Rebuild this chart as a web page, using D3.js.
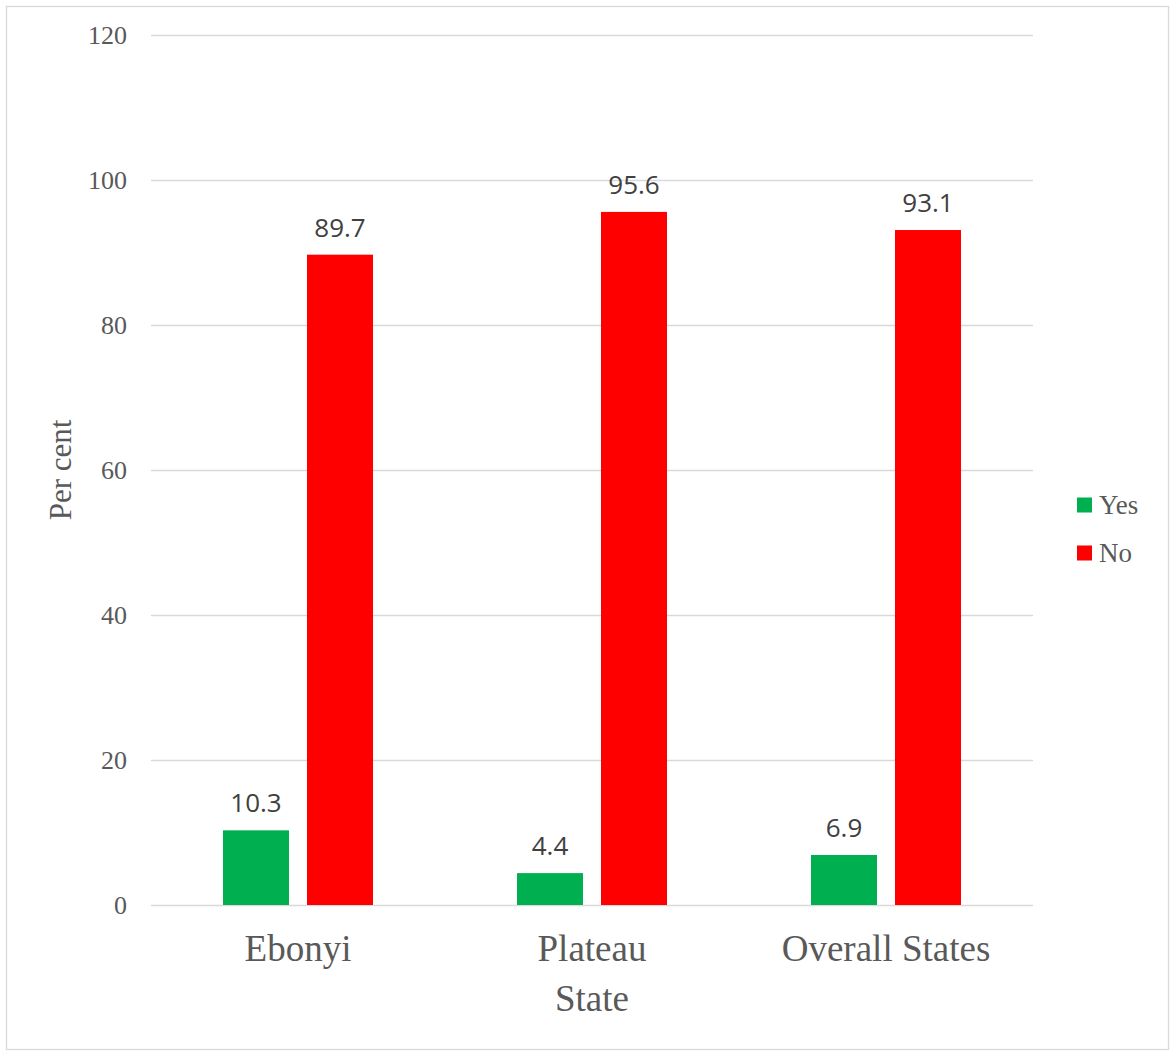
<!DOCTYPE html>
<html>
<head>
<meta charset="utf-8">
<script src="https://cdn.jsdelivr.net/npm/d3@7"></script>
<style>
	body { margin: 0; background: #fff; }
	svg { display: block; }
</style>
</head>
<body>
<svg id="chart" width="1170" height="1051"></svg>
<script>
// Chart values
const categories = ['Ebonyi', 'Plateau', 'Overall States']
const seriesNames = ['Yes', 'No']
const yesValues = [10.3, 4.4, 6.9]
const noValues = [89.7, 95.6, 93.1]
const yTicks = [0, 20, 40, 60, 80, 100, 120]

const colors = { Yes: '#00B050', No: '#FF0000' }

let svg = d3.select('#chart')
let margin = { top: 35, right: 137, bottom: 146, left: 151 }
let width = 1170, height = 1051

// Outer frame
svg.append('rect')
	.attr('x', 6.5).attr('y', 6.5)
	.attr('width', 1162).attr('height', 1043)
	.attr('fill', '#fff')
	.attr('stroke', '#D9D9D9')
	.attr('stroke-width', 1.3)

let y = d3.scaleLinear()
	.domain([0, 120])
	.range([height - margin.bottom, margin.top])

let x0 = d3.scaleBand()
	.domain(categories)
	.range([margin.left, width - margin.right])

// Two bars of 66px with an 18px gap, centred in each category
let groupWidth = 150
let x1 = d3.scaleBand()
	.domain(seriesNames)
	.range([(x0.bandwidth() - groupWidth) / 2, (x0.bandwidth() + groupWidth) / 2])
	.paddingInner(18 / 84)

// Gridlines + y tick labels
let yAxis = svg.append('g')
	.attr('transform', `translate(${margin.left}, 0)`)
	.call(d3.axisLeft(y).tickValues(yTicks).tickSize(-(width - margin.left - margin.right)).tickPadding(24))
yAxis.select('.domain').remove()
yAxis.selectAll('.tick line')
	.attr('stroke', '#D9D9D9')
	.attr('stroke-width', 1.5)
yAxis.selectAll('.tick text')
	.attr('fill', '#595959')
	.attr('font-family', '"Liberation Serif", "Times New Roman", serif')
	.attr('font-size', 26)

// Bars
let rows = categories.map((c, i) => ({ category: c, Yes: yesValues[i], No: noValues[i] }))

let groups = svg.append('g').selectAll('g')
	.data(rows)
	.join('g')
	.attr('transform', d => `translate(${x0(d.category)}, 0)`)

groups.selectAll('rect')
	.data(d => seriesNames.map(s => ({ key: s, value: d[s] })))
	.join('rect')
	.attr('x', d => x1(d.key))
	.attr('y', d => y(d.value))
	.attr('width', x1.bandwidth())
	.attr('height', d => y(0) - y(d.value))
	.attr('fill', d => colors[d.key])

groups.selectAll('text')
	.data(d => seriesNames.map(s => ({ key: s, value: d[s] })))
	.join('text')
	.attr('x', d => x1(d.key) + x1.bandwidth() / 2)
	.attr('y', d => y(d.value) - 18)
	.attr('text-anchor', 'middle')
	.attr('fill', '#404040')
	.attr('font-family', '"Open Sans", sans-serif')
	.attr('font-size', 26)
	.text(d => d.value.toFixed(1))

// Category labels
let xAxis = svg.append('g')
	.attr('transform', `translate(0, ${y(0)})`)
	.call(d3.axisBottom(x0).tickSize(0).tickPadding(56))
xAxis.select('.domain').remove()
xAxis.selectAll('.tick text')
	.attr('fill', '#595959')
	.attr('font-family', '"Liberation Serif", "Times New Roman", serif')
	.attr('font-size', 37)
	.attr('dy', 0)

// Axis titles
svg.append('text')
	.attr('x', x0(categories[1]) + x0.bandwidth() / 2)
	.attr('y', 1011)
	.attr('text-anchor', 'middle')
	.attr('fill', '#595959')
	.attr('font-family', '"Liberation Serif", "Times New Roman", serif')
	.attr('font-size', 37)
	.text('State')

svg.append('text')
	.attr('transform', `translate(71, ${(y(0) + y(120)) / 2}) rotate(-90)`)
	.attr('text-anchor', 'middle')
	.attr('fill', '#595959')
	.attr('font-family', '"Liberation Serif", "Times New Roman", serif')
	.attr('font-size', 31)
	.text('Per cent')

// Legend
let legend = svg.append('g')
	.selectAll('g')
	.data(seriesNames)
	.join('g')
	.attr('transform', (d, i) => `translate(1077, ${505 + i * 48})`)
legend.append('rect')
	.attr('x', 0).attr('y', -7.5)
	.attr('width', 15).attr('height', 15)
	.attr('fill', d => colors[d])
legend.append('text')
	.attr('x', 22).attr('y', 9)
	.attr('fill', '#595959')
	.attr('font-family', '"Liberation Serif", "Times New Roman", serif')
	.attr('font-size', 27)
	.text(d => d)
</script>
</body>
</html>
